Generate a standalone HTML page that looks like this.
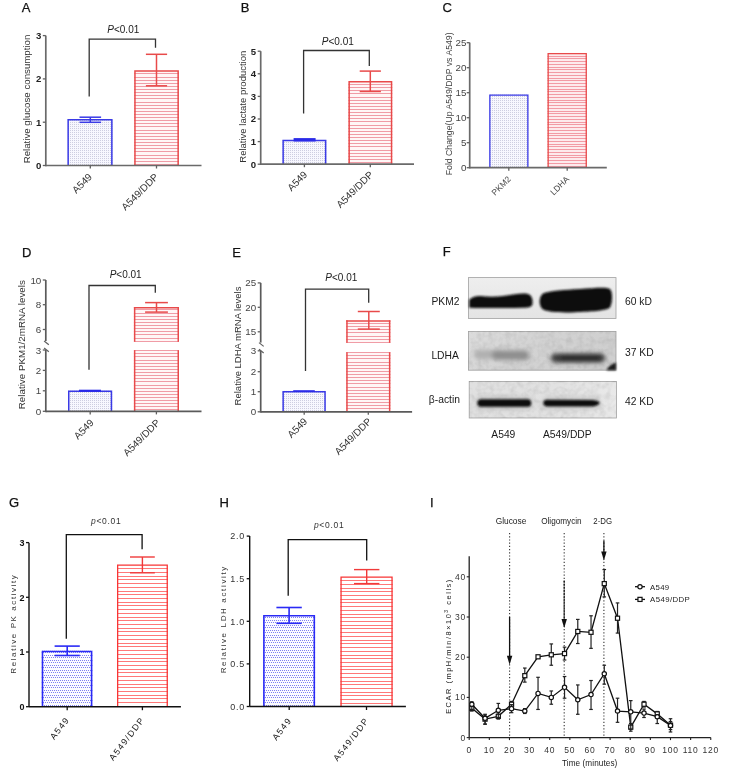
<!DOCTYPE html><html><head><meta charset="utf-8"><style>
html,body{margin:0;padding:0;background:#fff;}
svg{display:block;font-family:"Liberation Sans", sans-serif;will-change:transform;}
</style></head><body>
<svg width="737" height="776" viewBox="0 0 737 776">
<defs>
<pattern id="dotsA" patternUnits="userSpaceOnUse" width="2" height="2"><rect width="2" height="2" fill="#f7f7fe"/><rect x="0" y="0" width="1" height="1" fill="#cdcde0"/></pattern>
<pattern id="dotsG" patternUnits="userSpaceOnUse" width="2" height="5"><rect width="2" height="5" fill="#fcfcff"/><rect x="0" y="0" width="1" height="1" fill="#7f7ff2"/><rect x="1" y="2" width="1" height="1" fill="#7f7ff2"/></pattern>
<pattern id="hlC" patternUnits="userSpaceOnUse" width="4" height="2.75"><rect width="4" height="2.75" fill="#fde8ea"/><rect y="1" width="4" height="1" fill="#f3a0a8"/></pattern>
<pattern id="hlA" patternUnits="userSpaceOnUse" width="4" height="3.12"><rect width="4" height="3.12" fill="#fff6f6"/><rect y="1" width="4" height="1.2" fill="#f0a4ae"/></pattern>
<pattern id="hlG" patternUnits="userSpaceOnUse" width="4" height="3.72"><rect width="4" height="3.72" fill="#fff"/><rect y="1.2" width="4" height="1" fill="#ff7c7c"/></pattern>
<filter id="blur1" x="-20%" y="-50%" width="140%" height="200%"><feGaussianBlur stdDeviation="1.2"/></filter>
<filter id="blur2" x="-20%" y="-50%" width="140%" height="200%"><feGaussianBlur stdDeviation="2"/></filter>
</defs>
<rect width="737" height="776" fill="#fff"/>

<text x="21.80" y="11.80" font-size="13" text-anchor="start" fill="#111" font-weight="normal" font-style="normal" stroke="#111" stroke-width="0.25">A</text>
<text x="240.80" y="12.00" font-size="13" text-anchor="start" fill="#111" font-weight="normal" font-style="normal" stroke="#111" stroke-width="0.25">B</text>
<text x="442.60" y="12.00" font-size="13" text-anchor="start" fill="#111" font-weight="normal" font-style="normal" stroke="#111" stroke-width="0.25">C</text>
<text x="22.00" y="256.50" font-size="13" text-anchor="start" fill="#111" font-weight="normal" font-style="normal" stroke="#111" stroke-width="0.25">D</text>
<text x="232.20" y="256.50" font-size="13" text-anchor="start" fill="#111" font-weight="normal" font-style="normal" stroke="#111" stroke-width="0.25">E</text>
<text x="442.80" y="256.40" font-size="13" text-anchor="start" fill="#111" font-weight="normal" font-style="normal" stroke="#111" stroke-width="0.25">F</text>
<text x="9.00" y="506.80" font-size="13" text-anchor="start" fill="#111" font-weight="normal" font-style="normal" stroke="#111" stroke-width="0.25">G</text>
<text x="219.50" y="506.80" font-size="13" text-anchor="start" fill="#111" font-weight="normal" font-style="normal" stroke="#111" stroke-width="0.25">H</text>
<text x="430.00" y="506.80" font-size="13" text-anchor="start" fill="#111" font-weight="normal" font-style="normal" stroke="#111" stroke-width="0.25">I</text>
<rect x="67.40" y="119.10" width="45.20" height="46.40" fill="url(#dotsA)"/>
<polyline points="68.15,165.50 68.15,119.85 111.85,119.85 111.85,165.50" fill="none" stroke="#3a3ae6" stroke-width="1.5"/>
<rect x="134.20" y="70.30" width="44.70" height="95.20" fill="#fff6f6"/>
<path d="M134.20,73.5H178.90M134.20,77.5H178.90M134.20,80.5H178.90M134.20,83.5H178.90M134.20,86.5H178.90M134.20,89.5H178.90M134.20,92.5H178.90M134.20,95.5H178.90M134.20,98.5H178.90M134.20,102.5H178.90M134.20,105.5H178.90M134.20,108.5H178.90M134.20,111.5H178.90M134.20,114.5H178.90M134.20,117.5H178.90M134.20,120.5H178.90M134.20,123.5H178.90M134.20,126.5H178.90M134.20,130.5H178.90M134.20,133.5H178.90M134.20,136.5H178.90M134.20,139.5H178.90M134.20,142.5H178.90M134.20,145.5H178.90M134.20,148.5H178.90M134.20,151.5H178.90M134.20,155.5H178.90M134.20,158.5H178.90M134.20,161.5H178.90M134.20,164.5H178.90" stroke="#f09ca6" stroke-width="1.0" fill="none"/>
<polyline points="134.95,165.50 134.95,71.05 178.15,71.05 178.15,165.50" fill="none" stroke="#e84a4a" stroke-width="1.5"/>
<line x1="90.30" y1="117.20" x2="90.30" y2="122.30" stroke="#3a3ae6" stroke-width="1.5" />
<line x1="79.50" y1="117.20" x2="101.10" y2="117.20" stroke="#3a3ae6" stroke-width="1.5" />
<line x1="79.50" y1="122.30" x2="101.10" y2="122.30" stroke="#3a3ae6" stroke-width="1.5" />
<line x1="156.50" y1="54.30" x2="156.50" y2="85.80" stroke="#e84a4a" stroke-width="1.5" />
<line x1="145.90" y1="54.30" x2="167.10" y2="54.30" stroke="#e84a4a" stroke-width="1.5" />
<line x1="145.90" y1="85.80" x2="167.10" y2="85.80" stroke="#e84a4a" stroke-width="1.5" />
<line x1="45.80" y1="35.60" x2="45.80" y2="166.30" stroke="#6a6a6a" stroke-width="1.7" />
<line x1="45.80" y1="165.50" x2="201.50" y2="165.50" stroke="#6a6a6a" stroke-width="1.7" />
<line x1="42.80" y1="165.50" x2="45.80" y2="165.50" stroke="#606060" stroke-width="1.3" />
<text x="41.30" y="168.96" font-size="9.6" text-anchor="end" fill="#222" font-weight="bold" font-style="normal" >0</text>
<line x1="42.80" y1="122.20" x2="45.80" y2="122.20" stroke="#606060" stroke-width="1.3" />
<text x="41.30" y="125.66" font-size="9.6" text-anchor="end" fill="#222" font-weight="bold" font-style="normal" >1</text>
<line x1="42.80" y1="78.90" x2="45.80" y2="78.90" stroke="#606060" stroke-width="1.3" />
<text x="41.30" y="82.36" font-size="9.6" text-anchor="end" fill="#222" font-weight="bold" font-style="normal" >2</text>
<line x1="42.80" y1="35.60" x2="45.80" y2="35.60" stroke="#606060" stroke-width="1.3" />
<text x="41.30" y="39.06" font-size="9.6" text-anchor="end" fill="#222" font-weight="bold" font-style="normal" >3</text>
<line x1="90.30" y1="165.50" x2="90.30" y2="168.50" stroke="#606060" stroke-width="1.3" />
<line x1="156.50" y1="165.50" x2="156.50" y2="168.50" stroke="#606060" stroke-width="1.3" />
<polyline points="89.20,96.50 89.20,39.10 155.50,39.10 155.50,47.80" fill="none" stroke="#333" stroke-width="1.3"/>
<text x="107.30" y="32.80" font-size="10" fill="#222" letter-spacing="0"><tspan font-style="italic">P</tspan>&lt;0.01</text>
<text x="92.80" y="177.50" font-size="10" text-anchor="end" fill="#333" font-weight="normal" font-style="normal" transform="rotate(-45 92.80 177.50)" >A549</text>
<text x="159.00" y="177.50" font-size="10" text-anchor="end" fill="#333" font-weight="normal" font-style="normal" transform="rotate(-45 159.00 177.50)" >A549/DDP</text>
<text x="30.40" y="99.00" font-size="9.7" text-anchor="middle" fill="#333" font-weight="normal" font-style="normal" transform="rotate(-90 30.40 99.00)" >Relative glucose consumption</text>
<rect x="282.40" y="139.80" width="44.00" height="24.40" fill="url(#dotsA)"/>
<polyline points="283.15,164.20 283.15,140.55 325.65,140.55 325.65,164.20" fill="none" stroke="#3a3ae6" stroke-width="1.5"/>
<rect x="348.40" y="80.90" width="43.90" height="83.30" fill="#fff6f6"/>
<path d="M348.40,84.5H392.30M348.40,87.5H392.30M348.40,90.5H392.30M348.40,93.5H392.30M348.40,97.5H392.30M348.40,100.5H392.30M348.40,103.5H392.30M348.40,106.5H392.30M348.40,109.5H392.30M348.40,112.5H392.30M348.40,115.5H392.30M348.40,118.5H392.30M348.40,121.5H392.30M348.40,125.5H392.30M348.40,128.5H392.30M348.40,131.5H392.30M348.40,134.5H392.30M348.40,137.5H392.30M348.40,140.5H392.30M348.40,143.5H392.30M348.40,146.5H392.30M348.40,150.5H392.30M348.40,153.5H392.30M348.40,156.5H392.30M348.40,159.5H392.30M348.40,162.5H392.30" stroke="#f09ca6" stroke-width="1.0" fill="none"/>
<polyline points="349.15,164.20 349.15,81.65 391.55,81.65 391.55,164.20" fill="none" stroke="#e84a4a" stroke-width="1.5"/>
<rect x="293.6" y="138.1" width="22" height="3.4" fill="#2a2ae8"/>
<line x1="370.30" y1="71.10" x2="370.30" y2="91.50" stroke="#e84a4a" stroke-width="1.5" />
<line x1="359.70" y1="71.10" x2="380.90" y2="71.10" stroke="#e84a4a" stroke-width="1.5" />
<line x1="359.70" y1="91.50" x2="380.90" y2="91.50" stroke="#e84a4a" stroke-width="1.5" />
<line x1="260.70" y1="51.20" x2="260.70" y2="165.00" stroke="#6a6a6a" stroke-width="1.7" />
<line x1="260.70" y1="164.20" x2="414.00" y2="164.20" stroke="#6a6a6a" stroke-width="1.7" />
<line x1="257.70" y1="164.20" x2="260.70" y2="164.20" stroke="#606060" stroke-width="1.3" />
<text x="256.20" y="167.66" font-size="9.6" text-anchor="end" fill="#222" font-weight="bold" font-style="normal" >0</text>
<line x1="257.70" y1="141.60" x2="260.70" y2="141.60" stroke="#606060" stroke-width="1.3" />
<text x="256.20" y="145.06" font-size="9.6" text-anchor="end" fill="#222" font-weight="bold" font-style="normal" >1</text>
<line x1="257.70" y1="119.00" x2="260.70" y2="119.00" stroke="#606060" stroke-width="1.3" />
<text x="256.20" y="122.46" font-size="9.6" text-anchor="end" fill="#222" font-weight="bold" font-style="normal" >2</text>
<line x1="257.70" y1="96.40" x2="260.70" y2="96.40" stroke="#606060" stroke-width="1.3" />
<text x="256.20" y="99.86" font-size="9.6" text-anchor="end" fill="#222" font-weight="bold" font-style="normal" >3</text>
<line x1="257.70" y1="73.80" x2="260.70" y2="73.80" stroke="#606060" stroke-width="1.3" />
<text x="256.20" y="77.26" font-size="9.6" text-anchor="end" fill="#222" font-weight="bold" font-style="normal" >4</text>
<line x1="257.70" y1="51.20" x2="260.70" y2="51.20" stroke="#606060" stroke-width="1.3" />
<text x="256.20" y="54.66" font-size="9.6" text-anchor="end" fill="#222" font-weight="bold" font-style="normal" >5</text>
<line x1="304.40" y1="164.20" x2="304.40" y2="167.20" stroke="#606060" stroke-width="1.3" />
<line x1="370.30" y1="164.20" x2="370.30" y2="167.20" stroke="#606060" stroke-width="1.3" />
<polyline points="303.60,113.40 303.60,50.50 369.30,50.50 369.30,66.00" fill="none" stroke="#333" stroke-width="1.3"/>
<text x="321.80" y="44.90" font-size="10" fill="#222" letter-spacing="0"><tspan font-style="italic">P</tspan>&lt;0.01</text>
<text x="308.00" y="175.20" font-size="10" text-anchor="end" fill="#333" font-weight="normal" font-style="normal" transform="rotate(-45 308.00 175.20)" >A549</text>
<text x="373.90" y="175.20" font-size="10" text-anchor="end" fill="#333" font-weight="normal" font-style="normal" transform="rotate(-45 373.90 175.20)" >A549/DDP</text>
<text x="246.50" y="106.70" font-size="9.5" text-anchor="middle" fill="#333" font-weight="normal" font-style="normal" transform="rotate(-90 246.50 106.70)" >Relative lactate production</text>
<rect x="489.20" y="94.40" width="39.30" height="73.30" fill="url(#dotsA)"/>
<polyline points="489.85,167.70 489.85,95.05 527.85,95.05 527.85,167.70" fill="none" stroke="#3a3ae6" stroke-width="1.3"/>
<rect x="547.50" y="52.90" width="39.40" height="114.80" fill="#fdeaec"/>
<path d="M547.50,56.5H586.90M547.50,58.5H586.90M547.50,61.5H586.90M547.50,64.5H586.90M547.50,67.5H586.90M547.50,69.5H586.90M547.50,72.5H586.90M547.50,75.5H586.90M547.50,78.5H586.90M547.50,80.5H586.90M547.50,83.5H586.90M547.50,86.5H586.90M547.50,89.5H586.90M547.50,91.5H586.90M547.50,94.5H586.90M547.50,97.5H586.90M547.50,100.5H586.90M547.50,102.5H586.90M547.50,105.5H586.90M547.50,108.5H586.90M547.50,111.5H586.90M547.50,113.5H586.90M547.50,116.5H586.90M547.50,119.5H586.90M547.50,122.5H586.90M547.50,124.5H586.90M547.50,127.5H586.90M547.50,130.5H586.90M547.50,133.5H586.90M547.50,135.5H586.90M547.50,138.5H586.90M547.50,141.5H586.90M547.50,144.5H586.90M547.50,146.5H586.90M547.50,149.5H586.90M547.50,152.5H586.90M547.50,155.5H586.90M547.50,157.5H586.90M547.50,160.5H586.90M547.50,163.5H586.90M547.50,166.5H586.90" stroke="#f29aa4" stroke-width="1.0" fill="none"/>
<polyline points="548.15,167.70 548.15,53.55 586.25,53.55 586.25,167.70" fill="none" stroke="#e84a4a" stroke-width="1.3"/>
<line x1="469.70" y1="42.60" x2="469.70" y2="168.50" stroke="#6a6a6a" stroke-width="1.7" />
<line x1="469.70" y1="167.70" x2="606.80" y2="167.70" stroke="#6a6a6a" stroke-width="1.7" />
<line x1="466.70" y1="167.70" x2="469.70" y2="167.70" stroke="#606060" stroke-width="1.3" />
<text x="466.50" y="171.23" font-size="9.8" text-anchor="end" fill="#444" font-weight="normal" font-style="normal" >0</text>
<line x1="466.70" y1="142.70" x2="469.70" y2="142.70" stroke="#606060" stroke-width="1.3" />
<text x="466.50" y="146.23" font-size="9.8" text-anchor="end" fill="#444" font-weight="normal" font-style="normal" >5</text>
<line x1="466.70" y1="117.70" x2="469.70" y2="117.70" stroke="#606060" stroke-width="1.3" />
<text x="466.50" y="121.23" font-size="9.8" text-anchor="end" fill="#444" font-weight="normal" font-style="normal" >10</text>
<line x1="466.70" y1="92.70" x2="469.70" y2="92.70" stroke="#606060" stroke-width="1.3" />
<text x="466.50" y="96.23" font-size="9.8" text-anchor="end" fill="#444" font-weight="normal" font-style="normal" >15</text>
<line x1="466.70" y1="67.70" x2="469.70" y2="67.70" stroke="#606060" stroke-width="1.3" />
<text x="466.50" y="71.23" font-size="9.8" text-anchor="end" fill="#444" font-weight="normal" font-style="normal" >20</text>
<line x1="466.70" y1="42.70" x2="469.70" y2="42.70" stroke="#606060" stroke-width="1.3" />
<text x="466.50" y="46.23" font-size="9.8" text-anchor="end" fill="#444" font-weight="normal" font-style="normal" >25</text>
<line x1="508.80" y1="167.70" x2="508.80" y2="170.70" stroke="#606060" stroke-width="1.3" />
<line x1="567.20" y1="167.70" x2="567.20" y2="170.70" stroke="#606060" stroke-width="1.3" />
<text x="511.30" y="179.70" font-size="8.5" text-anchor="end" fill="#444" font-weight="normal" font-style="normal" transform="rotate(-45 511.30 179.70)" >PKM2</text>
<text x="569.70" y="179.70" font-size="8.5" text-anchor="end" fill="#444" font-weight="normal" font-style="normal" transform="rotate(-45 569.70 179.70)" >LDHA</text>
<text x="451.60" y="103.80" font-size="8.7" text-anchor="middle" fill="#444" font-weight="normal" font-style="normal" transform="rotate(-90 451.60 103.80)" >Fold Change(Up A549/DDP vs A549)</text>
<rect x="68.00" y="390.60" width="44.20" height="20.80" fill="url(#dotsA)"/>
<polyline points="68.75,411.40 68.75,391.35 111.45,391.35 111.45,411.40" fill="none" stroke="#3a3ae6" stroke-width="1.5"/>
<rect x="133.90" y="307.00" width="45.10" height="34.70" fill="#fff6f6"/>
<path d="M133.90,341.5H179.00M133.90,338.5H179.00M133.90,334.5H179.00M133.90,331.5H179.00M133.90,328.5H179.00M133.90,325.5H179.00M133.90,322.5H179.00M133.90,319.5H179.00M133.90,316.5H179.00M133.90,313.5H179.00M133.90,309.5H179.00" stroke="#f09ca6" stroke-width="1.0" fill="none"/>
<rect x="133.90" y="350.20" width="45.10" height="61.20" fill="#fff6f6"/>
<path d="M133.90,350.5H179.00M133.90,353.5H179.00M133.90,356.5H179.00M133.90,360.5H179.00M133.90,363.5H179.00M133.90,366.5H179.00M133.90,369.5H179.00M133.90,372.5H179.00M133.90,375.5H179.00M133.90,378.5H179.00M133.90,381.5H179.00M133.90,385.5H179.00M133.90,388.5H179.00M133.90,391.5H179.00M133.90,394.5H179.00M133.90,397.5H179.00M133.90,400.5H179.00M133.90,403.5H179.00M133.90,406.5H179.00M133.90,409.5H179.00" stroke="#f09ca6" stroke-width="1.0" fill="none"/>
<line x1="134.65" y1="307.00" x2="134.65" y2="341.70" stroke="#e84a4a" stroke-width="1.5" />
<line x1="178.25" y1="307.00" x2="178.25" y2="341.70" stroke="#e84a4a" stroke-width="1.5" />
<line x1="133.90" y1="307.75" x2="179.00" y2="307.75" stroke="#e84a4a" stroke-width="1.5" />
<line x1="134.65" y1="350.20" x2="134.65" y2="411.40" stroke="#e84a4a" stroke-width="1.5" />
<line x1="178.25" y1="350.20" x2="178.25" y2="411.40" stroke="#e84a4a" stroke-width="1.5" />
<line x1="156.50" y1="302.60" x2="156.50" y2="312.10" stroke="#e84a4a" stroke-width="1.5" />
<line x1="145.10" y1="302.60" x2="167.90" y2="302.60" stroke="#e84a4a" stroke-width="1.5" />
<line x1="145.10" y1="312.10" x2="167.90" y2="312.10" stroke="#e84a4a" stroke-width="1.5" />
<rect x="79" y="389.7" width="22" height="2" fill="#2a2ae8"/>
<line x1="45.80" y1="280.00" x2="45.80" y2="341.00" stroke="#5a5a5a" stroke-width="1.7" />
<line x1="45.80" y1="350.00" x2="45.80" y2="412.20" stroke="#5a5a5a" stroke-width="1.7" />
<line x1="45.80" y1="411.40" x2="201.50" y2="411.40" stroke="#5a5a5a" stroke-width="1.7" />
<line x1="44.10" y1="341.00" x2="48.80" y2="344.80" stroke="#606060" stroke-width="1.2" />
<line x1="44.10" y1="348.00" x2="48.80" y2="351.80" stroke="#606060" stroke-width="1.2" />
<line x1="42.80" y1="280.00" x2="45.80" y2="280.00" stroke="#606060" stroke-width="1.3" />
<text x="41.30" y="283.53" font-size="9.8" text-anchor="end" fill="#444" font-weight="normal" font-style="normal" >10</text>
<line x1="42.80" y1="304.70" x2="45.80" y2="304.70" stroke="#606060" stroke-width="1.3" />
<text x="41.30" y="308.23" font-size="9.8" text-anchor="end" fill="#444" font-weight="normal" font-style="normal" >8</text>
<line x1="42.80" y1="329.50" x2="45.80" y2="329.50" stroke="#606060" stroke-width="1.3" />
<text x="41.30" y="333.03" font-size="9.8" text-anchor="end" fill="#444" font-weight="normal" font-style="normal" >6</text>
<line x1="42.80" y1="350.00" x2="45.80" y2="350.00" stroke="#606060" stroke-width="1.3" />
<text x="41.30" y="353.53" font-size="9.8" text-anchor="end" fill="#444" font-weight="normal" font-style="normal" >3</text>
<line x1="42.80" y1="370.40" x2="45.80" y2="370.40" stroke="#606060" stroke-width="1.3" />
<text x="41.30" y="373.93" font-size="9.8" text-anchor="end" fill="#444" font-weight="normal" font-style="normal" >2</text>
<line x1="42.80" y1="390.80" x2="45.80" y2="390.80" stroke="#606060" stroke-width="1.3" />
<text x="41.30" y="394.33" font-size="9.8" text-anchor="end" fill="#444" font-weight="normal" font-style="normal" >1</text>
<line x1="42.80" y1="411.30" x2="45.80" y2="411.30" stroke="#606060" stroke-width="1.3" />
<text x="41.30" y="414.83" font-size="9.8" text-anchor="end" fill="#444" font-weight="normal" font-style="normal" >0</text>
<line x1="90.20" y1="411.40" x2="90.20" y2="414.40" stroke="#606060" stroke-width="1.3" />
<line x1="156.40" y1="411.40" x2="156.40" y2="414.40" stroke="#606060" stroke-width="1.3" />
<polyline points="89.00,369.70 89.00,285.50 155.30,285.50 155.30,292.70" fill="none" stroke="#333" stroke-width="1.3"/>
<text x="109.70" y="277.90" font-size="10" fill="#222" letter-spacing="0"><tspan font-style="italic">P</tspan>&lt;0.01</text>
<text x="94.50" y="423.40" font-size="10" text-anchor="end" fill="#333" font-weight="normal" font-style="normal" transform="rotate(-45 94.50 423.40)" >A549</text>
<text x="160.70" y="423.40" font-size="10" text-anchor="end" fill="#333" font-weight="normal" font-style="normal" transform="rotate(-45 160.70 423.40)" >A549/DDP</text>
<text x="25.30" y="344.70" font-size="9.8" text-anchor="middle" fill="#333" font-weight="normal" font-style="normal" transform="rotate(-90 25.30 344.70)" >Relative PKM1/2mRNA levels</text>
<rect x="282.40" y="390.90" width="43.40" height="20.90" fill="url(#dotsA)"/>
<polyline points="283.15,411.80 283.15,391.65 325.05,391.65 325.05,411.80" fill="none" stroke="#3a3ae6" stroke-width="1.5"/>
<rect x="346.20" y="320.30" width="44.20" height="22.50" fill="#fff6f6"/>
<path d="M346.20,342.5H390.40M346.20,339.5H390.40M346.20,336.5H390.40M346.20,332.5H390.40M346.20,329.5H390.40M346.20,326.5H390.40M346.20,323.5H390.40" stroke="#f09ca6" stroke-width="1.0" fill="none"/>
<rect x="346.20" y="352.20" width="44.20" height="59.60" fill="#fff6f6"/>
<path d="M346.20,352.5H390.40M346.20,355.5H390.40M346.20,358.5H390.40M346.20,362.5H390.40M346.20,365.5H390.40M346.20,368.5H390.40M346.20,371.5H390.40M346.20,374.5H390.40M346.20,377.5H390.40M346.20,380.5H390.40M346.20,383.5H390.40M346.20,387.5H390.40M346.20,390.5H390.40M346.20,393.5H390.40M346.20,396.5H390.40M346.20,399.5H390.40M346.20,402.5H390.40M346.20,405.5H390.40M346.20,408.5H390.40" stroke="#f09ca6" stroke-width="1.0" fill="none"/>
<line x1="346.95" y1="320.30" x2="346.95" y2="342.80" stroke="#e84a4a" stroke-width="1.5" />
<line x1="389.65" y1="320.30" x2="389.65" y2="342.80" stroke="#e84a4a" stroke-width="1.5" />
<line x1="346.20" y1="321.05" x2="390.40" y2="321.05" stroke="#e84a4a" stroke-width="1.5" />
<line x1="346.95" y1="352.20" x2="346.95" y2="411.80" stroke="#e84a4a" stroke-width="1.5" />
<line x1="389.65" y1="352.20" x2="389.65" y2="411.80" stroke="#e84a4a" stroke-width="1.5" />
<line x1="368.80" y1="311.50" x2="368.80" y2="329.10" stroke="#e84a4a" stroke-width="1.5" />
<line x1="357.80" y1="311.50" x2="379.80" y2="311.50" stroke="#e84a4a" stroke-width="1.5" />
<line x1="357.80" y1="329.10" x2="379.80" y2="329.10" stroke="#e84a4a" stroke-width="1.5" />
<rect x="293.2" y="390.2" width="21.6" height="1.8" fill="#2a2ae8"/>
<line x1="260.70" y1="282.90" x2="260.70" y2="342.60" stroke="#5a5a5a" stroke-width="1.7" />
<line x1="260.70" y1="350.80" x2="260.70" y2="412.60" stroke="#5a5a5a" stroke-width="1.7" />
<line x1="260.70" y1="411.80" x2="412.10" y2="411.80" stroke="#5a5a5a" stroke-width="1.7" />
<line x1="259.00" y1="342.60" x2="263.70" y2="346.40" stroke="#606060" stroke-width="1.2" />
<line x1="259.00" y1="349.20" x2="263.70" y2="353.00" stroke="#606060" stroke-width="1.2" />
<line x1="257.70" y1="282.90" x2="260.70" y2="282.90" stroke="#606060" stroke-width="1.3" />
<text x="256.20" y="286.43" font-size="9.8" text-anchor="end" fill="#444" font-weight="normal" font-style="normal" >25</text>
<line x1="257.70" y1="307.30" x2="260.70" y2="307.30" stroke="#606060" stroke-width="1.3" />
<text x="256.20" y="310.83" font-size="9.8" text-anchor="end" fill="#444" font-weight="normal" font-style="normal" >20</text>
<line x1="257.70" y1="331.80" x2="260.70" y2="331.80" stroke="#606060" stroke-width="1.3" />
<text x="256.20" y="335.33" font-size="9.8" text-anchor="end" fill="#444" font-weight="normal" font-style="normal" >15</text>
<line x1="257.70" y1="350.80" x2="260.70" y2="350.80" stroke="#606060" stroke-width="1.3" />
<text x="256.20" y="354.33" font-size="9.8" text-anchor="end" fill="#444" font-weight="normal" font-style="normal" >3</text>
<line x1="257.70" y1="371.70" x2="260.70" y2="371.70" stroke="#606060" stroke-width="1.3" />
<text x="256.20" y="375.23" font-size="9.8" text-anchor="end" fill="#444" font-weight="normal" font-style="normal" >2</text>
<line x1="257.70" y1="391.70" x2="260.70" y2="391.70" stroke="#606060" stroke-width="1.3" />
<text x="256.20" y="395.23" font-size="9.8" text-anchor="end" fill="#444" font-weight="normal" font-style="normal" >1</text>
<line x1="257.70" y1="411.80" x2="260.70" y2="411.80" stroke="#606060" stroke-width="1.3" />
<text x="256.20" y="415.33" font-size="9.8" text-anchor="end" fill="#444" font-weight="normal" font-style="normal" >0</text>
<line x1="304.20" y1="411.80" x2="304.20" y2="414.80" stroke="#606060" stroke-width="1.3" />
<line x1="368.30" y1="411.80" x2="368.30" y2="414.80" stroke="#606060" stroke-width="1.3" />
<polyline points="305.50,371.10 305.50,289.20 368.70,289.20 368.70,302.70" fill="none" stroke="#333" stroke-width="1.3"/>
<text x="325.30" y="281.40" font-size="10" fill="#222" letter-spacing="0"><tspan font-style="italic">P</tspan>&lt;0.01</text>
<text x="308.00" y="422.00" font-size="10" text-anchor="end" fill="#333" font-weight="normal" font-style="normal" transform="rotate(-45 308.00 422.00)" >A549</text>
<text x="372.10" y="422.00" font-size="10" text-anchor="end" fill="#333" font-weight="normal" font-style="normal" transform="rotate(-45 372.10 422.00)" >A549/DDP</text>
<text x="240.50" y="346.00" font-size="9.5" text-anchor="middle" fill="#333" font-weight="normal" font-style="normal" transform="rotate(-90 240.50 346.00)" >Relative LDHA mRNA levels</text>
<defs><linearGradient id="g1" x1="0" y1="0" x2="0" y2="1"><stop offset="0" stop-color="#eeeeee"/><stop offset="1" stop-color="#e4e4e4"/></linearGradient><linearGradient id="g2" x1="0" y1="0" x2="1" y2="0.3"><stop offset="0" stop-color="#dcdcdc"/><stop offset="0.5" stop-color="#d3d3d3"/><stop offset="1" stop-color="#cfcfcf"/></linearGradient><linearGradient id="g3" x1="0" y1="0" x2="1" y2="0"><stop offset="0" stop-color="#e0e0e0"/><stop offset="0.6" stop-color="#e2e2e2"/><stop offset="1" stop-color="#e9e9e9"/></linearGradient><filter id="blur3" x="-30%" y="-100%" width="160%" height="300%"><feGaussianBlur stdDeviation="2.2"/></filter><filter id="noise" x="0" y="0" width="100%" height="100%"><feTurbulence type="fractalNoise" baseFrequency="0.18" numOctaves="2" seed="3"/><feColorMatrix type="matrix" values="0 0 0 0 0  0 0 0 0 0  0 0 0 0 0  0.55 0.55 0 0 -0.45"/></filter><filter id="blur05" x="-20%" y="-50%" width="140%" height="200%"><feGaussianBlur stdDeviation="0.8"/></filter></defs>
<rect x="468.4" y="277.6" width="147.6" height="40.8" fill="url(#g1)" stroke="#a0a0a0" stroke-width="0.8"/>
<g filter="url(#blur05)">
<path d="M469.2,299.8 C472,297 476,295.5 481,296 C488,297 495,297 503,296 C512,295 520,293 527,293.8 C532,294.5 533,300 532.5,304 C532,307 529,307.6 524,307.8 C505,308.2 485,308.2 469.2,307.8 Z" fill="#0e0e0e"/>
<path d="M543,293.5 C550,290.5 565,290 580,289 C595,288 606,286.8 610,289 C613,292 612.5,303 610,307.5 C606,311 590,311.5 575,312.2 C560,312.8 548,312 543,309.5 C538.5,306 538.5,297 543,293.5 Z" fill="#0a0a0a"/>
</g>
<rect x="468.4" y="331.4" width="147.6" height="38.8" fill="url(#g2)" stroke="#a0a0a0" stroke-width="0.8"/>
<rect x="468.8" y="331.8" width="146.8" height="38" filter="url(#noise)" opacity="0.2"/>
<g filter="url(#blur3)">
<rect x="474" y="350" width="30" height="9" rx="4.5" fill="#b0b0b0"/>
<rect x="492" y="350.5" width="37" height="9.5" rx="4.5" fill="#8e8e8e"/>
<rect x="551" y="353.6" width="54" height="9" rx="4.5" fill="#3c3c3c"/>
<rect x="560" y="354.6" width="40" height="7" rx="3.5" fill="#2a2a2a"/>
</g>
<g filter="url(#blur05)"><path d="M606.5,370.2 C608,367 611,364 616,362.5 L616,370.2 Z" fill="#1a1a1a"/></g>
<rect x="469.2" y="381.4" width="147.2" height="36.6" fill="url(#g3)" stroke="#a0a0a0" stroke-width="0.8"/>
<rect x="469.6" y="381.8" width="146.4" height="35.8" filter="url(#noise)" opacity="0.2"/>
<g filter="url(#blur3)" opacity="0.5"><rect x="476" y="396" width="57" height="14" rx="6" fill="#b0b0b0"/><rect x="542" y="396" width="59" height="14" rx="6" fill="#b8b8b8"/></g>
<g filter="url(#blur05)">
<path d="M481,399.2 L528,399.2 C532,399.2 532.5,406.8 528,406.8 L481,406.8 C476,406.8 476,399.2 481,399.2 Z" fill="#0e0e0e"/>
<path d="M547,399.8 L592,400 C598,400.5 600.5,402.5 599.8,403.2 C598,405 596,406.3 590,406.5 L547,406.4 C542,406.4 542,399.8 547,399.8 Z" fill="#0e0e0e"/>
</g>
<text x="431.40" y="304.60" font-size="10.3" text-anchor="start" fill="#1a1a1a" font-weight="normal" font-style="normal" >PKM2</text>
<text x="431.40" y="359.00" font-size="10.3" text-anchor="start" fill="#1a1a1a" font-weight="normal" font-style="normal" >LDHA</text>
<text x="428.80" y="402.80" font-size="10.3" text-anchor="start" fill="#1a1a1a" font-weight="normal" font-style="normal" >β-actin</text>
<text x="625.00" y="305.00" font-size="10.3" text-anchor="start" fill="#1a1a1a" font-weight="normal" font-style="normal" >60 kD</text>
<text x="625.00" y="355.60" font-size="10.3" text-anchor="start" fill="#1a1a1a" font-weight="normal" font-style="normal" >37 KD</text>
<text x="625.00" y="405.20" font-size="10.3" text-anchor="start" fill="#1a1a1a" font-weight="normal" font-style="normal" >42 KD</text>
<text x="491.30" y="438.00" font-size="10.3" text-anchor="start" fill="#1a1a1a" font-weight="normal" font-style="normal" >A549</text>
<text x="543.00" y="438.00" font-size="10.3" text-anchor="start" fill="#1a1a1a" font-weight="normal" font-style="normal" >A549/DDP</text>
<rect x="41.70" y="650.70" width="50.70" height="56.00" fill="url(#dotsG)"/>
<polyline points="42.50,706.70 42.50,651.50 91.60,651.50 91.60,706.70" fill="none" stroke="#2a2af5" stroke-width="1.6"/>
<rect x="117.00" y="564.50" width="50.90" height="142.20" fill="#ffffff"/>
<path d="M117.00,568.5H167.90M117.00,572.5H167.90M117.00,576.5H167.90M117.00,579.5H167.90M117.00,583.5H167.90M117.00,587.5H167.90M117.00,591.5H167.90M117.00,594.5H167.90M117.00,598.5H167.90M117.00,602.5H167.90M117.00,605.5H167.90M117.00,609.5H167.90M117.00,613.5H167.90M117.00,617.5H167.90M117.00,620.5H167.90M117.00,624.5H167.90M117.00,628.5H167.90M117.00,631.5H167.90M117.00,635.5H167.90M117.00,639.5H167.90M117.00,643.5H167.90M117.00,646.5H167.90M117.00,650.5H167.90M117.00,654.5H167.90M117.00,658.5H167.90M117.00,661.5H167.90M117.00,665.5H167.90M117.00,669.5H167.90M117.00,672.5H167.90M117.00,676.5H167.90M117.00,680.5H167.90M117.00,684.5H167.90M117.00,687.5H167.90M117.00,691.5H167.90M117.00,695.5H167.90M117.00,698.5H167.90M117.00,702.5H167.90M117.00,706.5H167.90" stroke="#ff7878" stroke-width="1.0" fill="none"/>
<polyline points="117.65,706.70 117.65,565.15 167.25,565.15 167.25,706.70" fill="none" stroke="#f83535" stroke-width="1.3"/>
<line x1="67.20" y1="646.10" x2="67.20" y2="655.50" stroke="#2a2af5" stroke-width="1.6" />
<line x1="54.60" y1="646.10" x2="79.80" y2="646.10" stroke="#2a2af5" stroke-width="1.6" />
<line x1="54.60" y1="655.50" x2="79.80" y2="655.50" stroke="#2a2af5" stroke-width="1.6" />
<line x1="142.40" y1="557.00" x2="142.40" y2="572.80" stroke="#f03a3a" stroke-width="1.4" />
<line x1="130.00" y1="557.00" x2="154.80" y2="557.00" stroke="#f03a3a" stroke-width="1.4" />
<line x1="130.00" y1="572.80" x2="154.80" y2="572.80" stroke="#f03a3a" stroke-width="1.4" />
<line x1="29.00" y1="542.70" x2="29.00" y2="706.70" stroke="#111" stroke-width="1.4" />
<line x1="29.00" y1="706.70" x2="180.90" y2="706.70" stroke="#111" stroke-width="1.6" />
<line x1="26.00" y1="706.70" x2="29.00" y2="706.70" stroke="#111" stroke-width="1.3" />
<text x="24.50" y="709.94" font-size="9" text-anchor="end" fill="#111" font-weight="bold" font-style="normal" >0</text>
<line x1="26.00" y1="652.00" x2="29.00" y2="652.00" stroke="#111" stroke-width="1.3" />
<text x="24.50" y="655.24" font-size="9" text-anchor="end" fill="#111" font-weight="bold" font-style="normal" >1</text>
<line x1="26.00" y1="597.30" x2="29.00" y2="597.30" stroke="#111" stroke-width="1.3" />
<text x="24.50" y="600.54" font-size="9" text-anchor="end" fill="#111" font-weight="bold" font-style="normal" >2</text>
<line x1="26.00" y1="542.60" x2="29.00" y2="542.60" stroke="#111" stroke-width="1.3" />
<text x="24.50" y="545.84" font-size="9" text-anchor="end" fill="#111" font-weight="bold" font-style="normal" >3</text>
<line x1="67.20" y1="706.70" x2="67.20" y2="710.20" stroke="#111" stroke-width="1.3" />
<line x1="142.40" y1="706.70" x2="142.40" y2="710.20" stroke="#111" stroke-width="1.3" />
<polyline points="66.30,638.80 66.30,534.60 142.10,534.60 142.10,549.30" fill="none" stroke="#111" stroke-width="1.3"/>
<text x="91.00" y="524.00" font-size="8.5" fill="#333" letter-spacing="0.7"><tspan font-style="italic">p</tspan>&lt;0.01</text>
<text transform="translate(70.00,719.70) rotate(-52.5)" font-size="8.8" text-anchor="end" fill="#222" letter-spacing="1.35">A549</text>
<text transform="translate(145.20,719.70) rotate(-52.5)" font-size="8.8" text-anchor="end" fill="#222" letter-spacing="1.35">A549/DDP</text>
<text x="16.50" y="624.40" font-size="8" text-anchor="middle" fill="#333" font-weight="normal" font-style="normal" transform="rotate(-90 16.50 624.40)" textLength="98.5" lengthAdjust="spacing">Relative PK activity</text>
<rect x="263.10" y="614.90" width="52.00" height="91.60" fill="url(#dotsG)"/>
<polyline points="263.90,706.50 263.90,615.70 314.30,615.70 314.30,706.50" fill="none" stroke="#2a2af5" stroke-width="1.6"/>
<rect x="340.40" y="576.40" width="52.30" height="130.10" fill="#ffffff"/>
<path d="M340.40,580.5H392.70M340.40,584.5H392.70M340.40,588.5H392.70M340.40,591.5H392.70M340.40,595.5H392.70M340.40,599.5H392.70M340.40,602.5H392.70M340.40,606.5H392.70M340.40,610.5H392.70M340.40,614.5H392.70M340.40,617.5H392.70M340.40,621.5H392.70M340.40,625.5H392.70M340.40,628.5H392.70M340.40,632.5H392.70M340.40,636.5H392.70M340.40,640.5H392.70M340.40,643.5H392.70M340.40,647.5H392.70M340.40,651.5H392.70M340.40,655.5H392.70M340.40,658.5H392.70M340.40,662.5H392.70M340.40,666.5H392.70M340.40,669.5H392.70M340.40,673.5H392.70M340.40,677.5H392.70M340.40,681.5H392.70M340.40,684.5H392.70M340.40,688.5H392.70M340.40,692.5H392.70M340.40,695.5H392.70M340.40,699.5H392.70M340.40,703.5H392.70" stroke="#ff7878" stroke-width="1.0" fill="none"/>
<polyline points="341.05,706.50 341.05,577.05 392.05,577.05 392.05,706.50" fill="none" stroke="#f83535" stroke-width="1.3"/>
<line x1="289.10" y1="607.50" x2="289.10" y2="623.30" stroke="#2a2af5" stroke-width="1.6" />
<line x1="276.40" y1="607.50" x2="301.80" y2="607.50" stroke="#2a2af5" stroke-width="1.6" />
<line x1="276.40" y1="623.30" x2="301.80" y2="623.30" stroke="#2a2af5" stroke-width="1.6" />
<line x1="366.70" y1="569.60" x2="366.70" y2="583.60" stroke="#f03a3a" stroke-width="1.4" />
<line x1="354.00" y1="569.60" x2="379.40" y2="569.60" stroke="#f03a3a" stroke-width="1.4" />
<line x1="354.00" y1="583.60" x2="379.40" y2="583.60" stroke="#f03a3a" stroke-width="1.4" />
<line x1="249.70" y1="536.10" x2="249.70" y2="706.50" stroke="#111" stroke-width="1.4" />
<line x1="249.70" y1="706.50" x2="405.90" y2="706.50" stroke="#111" stroke-width="1.6" />
<line x1="246.70" y1="706.50" x2="249.70" y2="706.50" stroke="#111" stroke-width="1.3" />
<text x="245.20" y="709.74" font-size="9" text-anchor="end" fill="#333" font-weight="normal" font-style="normal" letter-spacing="0.8">0.0</text>
<line x1="246.70" y1="663.90" x2="249.70" y2="663.90" stroke="#111" stroke-width="1.3" />
<text x="245.20" y="667.14" font-size="9" text-anchor="end" fill="#333" font-weight="normal" font-style="normal" letter-spacing="0.8">0.5</text>
<line x1="246.70" y1="621.30" x2="249.70" y2="621.30" stroke="#111" stroke-width="1.3" />
<text x="245.20" y="624.54" font-size="9" text-anchor="end" fill="#333" font-weight="normal" font-style="normal" letter-spacing="0.8">1.0</text>
<line x1="246.70" y1="578.70" x2="249.70" y2="578.70" stroke="#111" stroke-width="1.3" />
<text x="245.20" y="581.94" font-size="9" text-anchor="end" fill="#333" font-weight="normal" font-style="normal" letter-spacing="0.8">1.5</text>
<line x1="246.70" y1="536.10" x2="249.70" y2="536.10" stroke="#111" stroke-width="1.3" />
<text x="245.20" y="539.34" font-size="9" text-anchor="end" fill="#333" font-weight="normal" font-style="normal" letter-spacing="0.8">2.0</text>
<line x1="289.20" y1="706.50" x2="289.20" y2="710.00" stroke="#111" stroke-width="1.3" />
<line x1="366.50" y1="706.50" x2="366.50" y2="710.00" stroke="#111" stroke-width="1.3" />
<polyline points="288.20,595.80 288.20,539.70 366.70,539.70 366.70,560.60" fill="none" stroke="#111" stroke-width="1.3"/>
<text x="313.90" y="528.40" font-size="8.5" fill="#333" letter-spacing="0.7"><tspan font-style="italic">p</tspan>&lt;0.01</text>
<text transform="translate(292.20,720.30) rotate(-52.5)" font-size="8.8" text-anchor="end" fill="#222" letter-spacing="1.35">A549</text>
<text transform="translate(369.50,720.30) rotate(-52.5)" font-size="8.8" text-anchor="end" fill="#222" letter-spacing="1.35">A549/DDP</text>
<text x="226.20" y="620.00" font-size="8" text-anchor="middle" fill="#333" font-weight="normal" font-style="normal" transform="rotate(-90 226.20 620.00)" textLength="106.6" lengthAdjust="spacing">Relative LDH activity</text>
<line x1="469.20" y1="556.20" x2="469.20" y2="737.60" stroke="#222" stroke-width="1.3" />
<line x1="469.20" y1="737.60" x2="710.80" y2="737.60" stroke="#222" stroke-width="1.3" />
<line x1="469.20" y1="737.60" x2="469.20" y2="740.10" stroke="#222" stroke-width="1.1" />
<text x="469.20" y="752.50" font-size="8.5" text-anchor="middle" fill="#333" font-weight="normal" font-style="normal" letter-spacing="0.8">0</text>
<line x1="489.33" y1="737.60" x2="489.33" y2="740.10" stroke="#222" stroke-width="1.1" />
<text x="489.33" y="752.50" font-size="8.5" text-anchor="middle" fill="#333" font-weight="normal" font-style="normal" letter-spacing="0.8">10</text>
<line x1="509.46" y1="737.60" x2="509.46" y2="740.10" stroke="#222" stroke-width="1.1" />
<text x="509.46" y="752.50" font-size="8.5" text-anchor="middle" fill="#333" font-weight="normal" font-style="normal" letter-spacing="0.8">20</text>
<line x1="529.59" y1="737.60" x2="529.59" y2="740.10" stroke="#222" stroke-width="1.1" />
<text x="529.59" y="752.50" font-size="8.5" text-anchor="middle" fill="#333" font-weight="normal" font-style="normal" letter-spacing="0.8">30</text>
<line x1="549.72" y1="737.60" x2="549.72" y2="740.10" stroke="#222" stroke-width="1.1" />
<text x="549.72" y="752.50" font-size="8.5" text-anchor="middle" fill="#333" font-weight="normal" font-style="normal" letter-spacing="0.8">40</text>
<line x1="569.85" y1="737.60" x2="569.85" y2="740.10" stroke="#222" stroke-width="1.1" />
<text x="569.85" y="752.50" font-size="8.5" text-anchor="middle" fill="#333" font-weight="normal" font-style="normal" letter-spacing="0.8">50</text>
<line x1="589.98" y1="737.60" x2="589.98" y2="740.10" stroke="#222" stroke-width="1.1" />
<text x="589.98" y="752.50" font-size="8.5" text-anchor="middle" fill="#333" font-weight="normal" font-style="normal" letter-spacing="0.8">60</text>
<line x1="610.11" y1="737.60" x2="610.11" y2="740.10" stroke="#222" stroke-width="1.1" />
<text x="610.11" y="752.50" font-size="8.5" text-anchor="middle" fill="#333" font-weight="normal" font-style="normal" letter-spacing="0.8">70</text>
<line x1="630.24" y1="737.60" x2="630.24" y2="740.10" stroke="#222" stroke-width="1.1" />
<text x="630.24" y="752.50" font-size="8.5" text-anchor="middle" fill="#333" font-weight="normal" font-style="normal" letter-spacing="0.8">80</text>
<line x1="650.37" y1="737.60" x2="650.37" y2="740.10" stroke="#222" stroke-width="1.1" />
<text x="650.37" y="752.50" font-size="8.5" text-anchor="middle" fill="#333" font-weight="normal" font-style="normal" letter-spacing="0.8">90</text>
<line x1="670.50" y1="737.60" x2="670.50" y2="740.10" stroke="#222" stroke-width="1.1" />
<text x="670.50" y="752.50" font-size="8.5" text-anchor="middle" fill="#333" font-weight="normal" font-style="normal" letter-spacing="0.8">100</text>
<line x1="690.63" y1="737.60" x2="690.63" y2="740.10" stroke="#222" stroke-width="1.1" />
<text x="690.63" y="752.50" font-size="8.5" text-anchor="middle" fill="#333" font-weight="normal" font-style="normal" letter-spacing="0.8">110</text>
<line x1="710.76" y1="737.60" x2="710.76" y2="740.10" stroke="#222" stroke-width="1.1" />
<text x="710.76" y="752.50" font-size="8.5" text-anchor="middle" fill="#333" font-weight="normal" font-style="normal" letter-spacing="0.8">120</text>
<line x1="466.70" y1="737.60" x2="469.20" y2="737.60" stroke="#222" stroke-width="1.1" />
<text x="466.00" y="740.60" font-size="8.5" text-anchor="end" fill="#333" font-weight="normal" font-style="normal" letter-spacing="0.8">0</text>
<line x1="466.70" y1="697.40" x2="469.20" y2="697.40" stroke="#222" stroke-width="1.1" />
<text x="466.00" y="700.40" font-size="8.5" text-anchor="end" fill="#333" font-weight="normal" font-style="normal" letter-spacing="0.8">10</text>
<line x1="466.70" y1="657.20" x2="469.20" y2="657.20" stroke="#222" stroke-width="1.1" />
<text x="466.00" y="660.20" font-size="8.5" text-anchor="end" fill="#333" font-weight="normal" font-style="normal" letter-spacing="0.8">20</text>
<line x1="466.70" y1="617.00" x2="469.20" y2="617.00" stroke="#222" stroke-width="1.1" />
<text x="466.00" y="620.00" font-size="8.5" text-anchor="end" fill="#333" font-weight="normal" font-style="normal" letter-spacing="0.8">30</text>
<line x1="466.70" y1="576.80" x2="469.20" y2="576.80" stroke="#222" stroke-width="1.1" />
<text x="466.00" y="579.80" font-size="8.5" text-anchor="end" fill="#333" font-weight="normal" font-style="normal" letter-spacing="0.8">40</text>
<line x1="509.60" y1="533.00" x2="509.60" y2="737.60" stroke="#333" stroke-width="1.1" stroke-dasharray="1.2 2"/>
<line x1="564.20" y1="533.00" x2="564.20" y2="737.60" stroke="#333" stroke-width="1.1" stroke-dasharray="1.2 2"/>
<line x1="603.90" y1="533.00" x2="603.90" y2="737.60" stroke="#333" stroke-width="1.1" stroke-dasharray="1.2 2"/>
<line x1="509.60" y1="617.00" x2="509.60" y2="657.80" stroke="#111" stroke-width="1.3" />
<path d="M506.90,655.80 L512.30,655.80 L509.60,664.80 Z" fill="#111"/>
<line x1="564.20" y1="580.50" x2="564.20" y2="621.00" stroke="#111" stroke-width="1.3" stroke-dasharray="2.2 0.8"/>
<path d="M561.50,619.00 L566.90,619.00 L564.20,628.00 Z" fill="#111"/>
<line x1="603.90" y1="540.50" x2="603.90" y2="553.40" stroke="#111" stroke-width="1.3" />
<path d="M601.20,551.40 L606.60,551.40 L603.90,560.40 Z" fill="#111"/>
<text x="511.00" y="524.20" font-size="8.8" text-anchor="middle" fill="#222" font-weight="normal" font-style="normal" textLength="30.6" lengthAdjust="spacingAndGlyphs">Glucose</text>
<text x="561.40" y="524.20" font-size="8.8" text-anchor="middle" fill="#222" font-weight="normal" font-style="normal" textLength="40.4" lengthAdjust="spacingAndGlyphs">Oligomycin</text>
<text x="602.70" y="524.20" font-size="8.8" text-anchor="middle" fill="#222" font-weight="normal" font-style="normal" textLength="18.7" lengthAdjust="spacingAndGlyphs">2-DG</text>
<polyline points="471.82,708.25 485.06,719.11 498.31,716.29 511.55,704.23 524.80,675.69 538.04,656.80 551.29,654.79 564.54,653.58 577.78,631.47 591.03,632.28 604.27,583.63 617.52,618.21 630.76,727.15 644.01,704.23 657.25,713.88 670.50,725.14" fill="none" stroke="#111" stroke-width="1.3"/>
<line x1="471.82" y1="703.83" x2="471.82" y2="711.07" stroke="#222" stroke-width="1.2" />
<line x1="470.02" y1="703.83" x2="473.62" y2="703.83" stroke="#222" stroke-width="1.2" />
<line x1="470.02" y1="711.07" x2="473.62" y2="711.07" stroke="#222" stroke-width="1.2" />
<line x1="485.06" y1="715.09" x2="485.06" y2="724.33" stroke="#222" stroke-width="1.2" />
<line x1="483.26" y1="715.09" x2="486.86" y2="715.09" stroke="#222" stroke-width="1.2" />
<line x1="483.26" y1="724.33" x2="486.86" y2="724.33" stroke="#222" stroke-width="1.2" />
<line x1="498.31" y1="712.68" x2="498.31" y2="719.11" stroke="#222" stroke-width="1.2" />
<line x1="496.51" y1="712.68" x2="500.11" y2="712.68" stroke="#222" stroke-width="1.2" />
<line x1="496.51" y1="719.11" x2="500.11" y2="719.11" stroke="#222" stroke-width="1.2" />
<line x1="511.55" y1="701.42" x2="511.55" y2="707.45" stroke="#222" stroke-width="1.2" />
<line x1="509.75" y1="701.42" x2="513.35" y2="701.42" stroke="#222" stroke-width="1.2" />
<line x1="509.75" y1="707.45" x2="513.35" y2="707.45" stroke="#222" stroke-width="1.2" />
<line x1="524.80" y1="668.05" x2="524.80" y2="682.12" stroke="#222" stroke-width="1.2" />
<line x1="523.00" y1="668.05" x2="526.60" y2="668.05" stroke="#222" stroke-width="1.2" />
<line x1="523.00" y1="682.12" x2="526.60" y2="682.12" stroke="#222" stroke-width="1.2" />
<line x1="538.04" y1="655.59" x2="538.04" y2="658.00" stroke="#222" stroke-width="1.2" />
<line x1="536.24" y1="655.59" x2="539.84" y2="655.59" stroke="#222" stroke-width="1.2" />
<line x1="536.24" y1="658.00" x2="539.84" y2="658.00" stroke="#222" stroke-width="1.2" />
<line x1="551.29" y1="643.93" x2="551.29" y2="665.24" stroke="#222" stroke-width="1.2" />
<line x1="549.49" y1="643.93" x2="553.09" y2="643.93" stroke="#222" stroke-width="1.2" />
<line x1="549.49" y1="665.24" x2="553.09" y2="665.24" stroke="#222" stroke-width="1.2" />
<line x1="564.54" y1="647.15" x2="564.54" y2="660.01" stroke="#222" stroke-width="1.2" />
<line x1="562.74" y1="647.15" x2="566.34" y2="647.15" stroke="#222" stroke-width="1.2" />
<line x1="562.74" y1="660.01" x2="566.34" y2="660.01" stroke="#222" stroke-width="1.2" />
<line x1="577.78" y1="619.41" x2="577.78" y2="643.53" stroke="#222" stroke-width="1.2" />
<line x1="575.98" y1="619.41" x2="579.58" y2="619.41" stroke="#222" stroke-width="1.2" />
<line x1="575.98" y1="643.53" x2="579.58" y2="643.53" stroke="#222" stroke-width="1.2" />
<line x1="591.03" y1="615.79" x2="591.03" y2="648.36" stroke="#222" stroke-width="1.2" />
<line x1="589.23" y1="615.79" x2="592.83" y2="615.79" stroke="#222" stroke-width="1.2" />
<line x1="589.23" y1="648.36" x2="592.83" y2="648.36" stroke="#222" stroke-width="1.2" />
<line x1="604.27" y1="569.56" x2="604.27" y2="596.90" stroke="#222" stroke-width="1.2" />
<line x1="602.47" y1="569.56" x2="606.07" y2="569.56" stroke="#222" stroke-width="1.2" />
<line x1="602.47" y1="596.90" x2="606.07" y2="596.90" stroke="#222" stroke-width="1.2" />
<line x1="617.52" y1="602.93" x2="617.52" y2="633.08" stroke="#222" stroke-width="1.2" />
<line x1="615.72" y1="602.93" x2="619.32" y2="602.93" stroke="#222" stroke-width="1.2" />
<line x1="615.72" y1="633.08" x2="619.32" y2="633.08" stroke="#222" stroke-width="1.2" />
<line x1="630.76" y1="723.53" x2="630.76" y2="731.17" stroke="#222" stroke-width="1.2" />
<line x1="628.96" y1="723.53" x2="632.56" y2="723.53" stroke="#222" stroke-width="1.2" />
<line x1="628.96" y1="731.17" x2="632.56" y2="731.17" stroke="#222" stroke-width="1.2" />
<line x1="644.01" y1="701.42" x2="644.01" y2="707.05" stroke="#222" stroke-width="1.2" />
<line x1="642.21" y1="701.42" x2="645.81" y2="701.42" stroke="#222" stroke-width="1.2" />
<line x1="642.21" y1="707.05" x2="645.81" y2="707.05" stroke="#222" stroke-width="1.2" />
<line x1="657.25" y1="711.47" x2="657.25" y2="716.70" stroke="#222" stroke-width="1.2" />
<line x1="655.45" y1="711.47" x2="659.05" y2="711.47" stroke="#222" stroke-width="1.2" />
<line x1="655.45" y1="716.70" x2="659.05" y2="716.70" stroke="#222" stroke-width="1.2" />
<line x1="670.50" y1="721.52" x2="670.50" y2="729.56" stroke="#222" stroke-width="1.2" />
<line x1="668.70" y1="721.52" x2="672.30" y2="721.52" stroke="#222" stroke-width="1.2" />
<line x1="668.70" y1="729.56" x2="672.30" y2="729.56" stroke="#222" stroke-width="1.2" />
<rect x="469.77" y="706.20" width="4.1" height="4.1" fill="#fff" stroke="#111" stroke-width="1.2"/>
<rect x="483.01" y="717.06" width="4.1" height="4.1" fill="#fff" stroke="#111" stroke-width="1.2"/>
<rect x="496.26" y="714.24" width="4.1" height="4.1" fill="#fff" stroke="#111" stroke-width="1.2"/>
<rect x="509.50" y="702.18" width="4.1" height="4.1" fill="#fff" stroke="#111" stroke-width="1.2"/>
<rect x="522.75" y="673.64" width="4.1" height="4.1" fill="#fff" stroke="#111" stroke-width="1.2"/>
<rect x="535.99" y="654.75" width="4.1" height="4.1" fill="#fff" stroke="#111" stroke-width="1.2"/>
<rect x="549.24" y="652.74" width="4.1" height="4.1" fill="#fff" stroke="#111" stroke-width="1.2"/>
<rect x="562.49" y="651.53" width="4.1" height="4.1" fill="#fff" stroke="#111" stroke-width="1.2"/>
<rect x="575.73" y="629.42" width="4.1" height="4.1" fill="#fff" stroke="#111" stroke-width="1.2"/>
<rect x="588.98" y="630.23" width="4.1" height="4.1" fill="#fff" stroke="#111" stroke-width="1.2"/>
<rect x="602.22" y="581.58" width="4.1" height="4.1" fill="#fff" stroke="#111" stroke-width="1.2"/>
<rect x="615.47" y="616.16" width="4.1" height="4.1" fill="#fff" stroke="#111" stroke-width="1.2"/>
<rect x="628.71" y="725.10" width="4.1" height="4.1" fill="#fff" stroke="#111" stroke-width="1.2"/>
<rect x="641.96" y="702.18" width="4.1" height="4.1" fill="#fff" stroke="#111" stroke-width="1.2"/>
<rect x="655.20" y="711.83" width="4.1" height="4.1" fill="#fff" stroke="#111" stroke-width="1.2"/>
<rect x="668.45" y="723.09" width="4.1" height="4.1" fill="#fff" stroke="#111" stroke-width="1.2"/>
<polyline points="471.82,704.23 485.06,718.30 498.31,710.26 511.55,708.66 524.80,711.07 538.04,693.38 551.29,697.40 564.54,687.35 577.78,699.81 591.03,694.59 604.27,673.68 617.52,711.07 630.76,711.87 644.01,713.08 657.25,716.70 670.50,725.54" fill="none" stroke="#111" stroke-width="1.3"/>
<line x1="471.82" y1="701.82" x2="471.82" y2="709.46" stroke="#222" stroke-width="1.2" />
<line x1="470.02" y1="701.82" x2="473.62" y2="701.82" stroke="#222" stroke-width="1.2" />
<line x1="470.02" y1="709.46" x2="473.62" y2="709.46" stroke="#222" stroke-width="1.2" />
<line x1="485.06" y1="714.28" x2="485.06" y2="723.93" stroke="#222" stroke-width="1.2" />
<line x1="483.26" y1="714.28" x2="486.86" y2="714.28" stroke="#222" stroke-width="1.2" />
<line x1="483.26" y1="723.93" x2="486.86" y2="723.93" stroke="#222" stroke-width="1.2" />
<line x1="498.31" y1="703.43" x2="498.31" y2="717.50" stroke="#222" stroke-width="1.2" />
<line x1="496.51" y1="703.43" x2="500.11" y2="703.43" stroke="#222" stroke-width="1.2" />
<line x1="496.51" y1="717.50" x2="500.11" y2="717.50" stroke="#222" stroke-width="1.2" />
<line x1="511.55" y1="704.64" x2="511.55" y2="712.68" stroke="#222" stroke-width="1.2" />
<line x1="509.75" y1="704.64" x2="513.35" y2="704.64" stroke="#222" stroke-width="1.2" />
<line x1="509.75" y1="712.68" x2="513.35" y2="712.68" stroke="#222" stroke-width="1.2" />
<line x1="524.80" y1="708.66" x2="524.80" y2="713.48" stroke="#222" stroke-width="1.2" />
<line x1="523.00" y1="708.66" x2="526.60" y2="708.66" stroke="#222" stroke-width="1.2" />
<line x1="523.00" y1="713.48" x2="526.60" y2="713.48" stroke="#222" stroke-width="1.2" />
<line x1="538.04" y1="677.30" x2="538.04" y2="709.46" stroke="#222" stroke-width="1.2" />
<line x1="536.24" y1="677.30" x2="539.84" y2="677.30" stroke="#222" stroke-width="1.2" />
<line x1="536.24" y1="709.46" x2="539.84" y2="709.46" stroke="#222" stroke-width="1.2" />
<line x1="551.29" y1="690.97" x2="551.29" y2="704.23" stroke="#222" stroke-width="1.2" />
<line x1="549.49" y1="690.97" x2="553.09" y2="690.97" stroke="#222" stroke-width="1.2" />
<line x1="549.49" y1="704.23" x2="553.09" y2="704.23" stroke="#222" stroke-width="1.2" />
<line x1="564.54" y1="676.50" x2="564.54" y2="698.20" stroke="#222" stroke-width="1.2" />
<line x1="562.74" y1="676.50" x2="566.34" y2="676.50" stroke="#222" stroke-width="1.2" />
<line x1="562.74" y1="698.20" x2="566.34" y2="698.20" stroke="#222" stroke-width="1.2" />
<line x1="577.78" y1="684.94" x2="577.78" y2="714.28" stroke="#222" stroke-width="1.2" />
<line x1="575.98" y1="684.94" x2="579.58" y2="684.94" stroke="#222" stroke-width="1.2" />
<line x1="575.98" y1="714.28" x2="579.58" y2="714.28" stroke="#222" stroke-width="1.2" />
<line x1="591.03" y1="680.52" x2="591.03" y2="709.46" stroke="#222" stroke-width="1.2" />
<line x1="589.23" y1="680.52" x2="592.83" y2="680.52" stroke="#222" stroke-width="1.2" />
<line x1="589.23" y1="709.46" x2="592.83" y2="709.46" stroke="#222" stroke-width="1.2" />
<line x1="604.27" y1="665.24" x2="604.27" y2="684.13" stroke="#222" stroke-width="1.2" />
<line x1="602.47" y1="665.24" x2="606.07" y2="665.24" stroke="#222" stroke-width="1.2" />
<line x1="602.47" y1="684.13" x2="606.07" y2="684.13" stroke="#222" stroke-width="1.2" />
<line x1="617.52" y1="698.20" x2="617.52" y2="722.32" stroke="#222" stroke-width="1.2" />
<line x1="615.72" y1="698.20" x2="619.32" y2="698.20" stroke="#222" stroke-width="1.2" />
<line x1="615.72" y1="722.32" x2="619.32" y2="722.32" stroke="#222" stroke-width="1.2" />
<line x1="630.76" y1="700.62" x2="630.76" y2="729.16" stroke="#222" stroke-width="1.2" />
<line x1="628.96" y1="700.62" x2="632.56" y2="700.62" stroke="#222" stroke-width="1.2" />
<line x1="628.96" y1="729.16" x2="632.56" y2="729.16" stroke="#222" stroke-width="1.2" />
<line x1="644.01" y1="709.06" x2="644.01" y2="717.50" stroke="#222" stroke-width="1.2" />
<line x1="642.21" y1="709.06" x2="645.81" y2="709.06" stroke="#222" stroke-width="1.2" />
<line x1="642.21" y1="717.50" x2="645.81" y2="717.50" stroke="#222" stroke-width="1.2" />
<line x1="657.25" y1="714.69" x2="657.25" y2="723.53" stroke="#222" stroke-width="1.2" />
<line x1="655.45" y1="714.69" x2="659.05" y2="714.69" stroke="#222" stroke-width="1.2" />
<line x1="655.45" y1="723.53" x2="659.05" y2="723.53" stroke="#222" stroke-width="1.2" />
<line x1="670.50" y1="718.71" x2="670.50" y2="731.97" stroke="#222" stroke-width="1.2" />
<line x1="668.70" y1="718.71" x2="672.30" y2="718.71" stroke="#222" stroke-width="1.2" />
<line x1="668.70" y1="731.97" x2="672.30" y2="731.97" stroke="#222" stroke-width="1.2" />
<circle cx="471.82" cy="704.23" r="2.15" fill="#fff" stroke="#111" stroke-width="1.2"/>
<circle cx="485.06" cy="718.30" r="2.15" fill="#fff" stroke="#111" stroke-width="1.2"/>
<circle cx="498.31" cy="710.26" r="2.15" fill="#fff" stroke="#111" stroke-width="1.2"/>
<circle cx="511.55" cy="708.66" r="2.15" fill="#fff" stroke="#111" stroke-width="1.2"/>
<circle cx="524.80" cy="711.07" r="2.15" fill="#fff" stroke="#111" stroke-width="1.2"/>
<circle cx="538.04" cy="693.38" r="2.15" fill="#fff" stroke="#111" stroke-width="1.2"/>
<circle cx="551.29" cy="697.40" r="2.15" fill="#fff" stroke="#111" stroke-width="1.2"/>
<circle cx="564.54" cy="687.35" r="2.15" fill="#fff" stroke="#111" stroke-width="1.2"/>
<circle cx="577.78" cy="699.81" r="2.15" fill="#fff" stroke="#111" stroke-width="1.2"/>
<circle cx="591.03" cy="694.59" r="2.15" fill="#fff" stroke="#111" stroke-width="1.2"/>
<circle cx="604.27" cy="673.68" r="2.15" fill="#fff" stroke="#111" stroke-width="1.2"/>
<circle cx="617.52" cy="711.07" r="2.15" fill="#fff" stroke="#111" stroke-width="1.2"/>
<circle cx="630.76" cy="711.87" r="2.15" fill="#fff" stroke="#111" stroke-width="1.2"/>
<circle cx="644.01" cy="713.08" r="2.15" fill="#fff" stroke="#111" stroke-width="1.2"/>
<circle cx="657.25" cy="716.70" r="2.15" fill="#fff" stroke="#111" stroke-width="1.2"/>
<circle cx="670.50" cy="725.54" r="2.15" fill="#fff" stroke="#111" stroke-width="1.2"/>
<line x1="635.00" y1="586.70" x2="645.00" y2="586.70" stroke="#111" stroke-width="1.3" />
<circle cx="640" cy="586.7" r="2.15" fill="#fff" stroke="#111" stroke-width="1.2"/>
<line x1="635.00" y1="599.40" x2="645.00" y2="599.40" stroke="#111" stroke-width="1.3" />
<rect x="637.95" y="597.35" width="4.1" height="4.1" fill="#fff" stroke="#111" stroke-width="1.2"/>
<text x="650.10" y="589.70" font-size="7.8" text-anchor="start" fill="#222" font-weight="normal" font-style="normal" textLength="19" lengthAdjust="spacing">A549</text>
<text x="650.10" y="602.20" font-size="7.8" text-anchor="start" fill="#222" font-weight="normal" font-style="normal" textLength="39.6" lengthAdjust="spacing">A549/DDP</text>
<text x="450.60" y="646.00" font-size="7.4" text-anchor="middle" fill="#222" font-weight="normal" font-style="normal" transform="rotate(-90 450.60 646.00)" letter-spacing="1.55">ECAR (mpH/min/8×10<tspan dy="-3" font-size="5">3</tspan><tspan dy="3"> cells)</tspan></text>
<text x="562.00" y="766.00" font-size="8.2" text-anchor="start" fill="#222" font-weight="normal" font-style="normal" textLength="55.3" lengthAdjust="spacing">Time (minutes)</text>
</svg></body></html>
